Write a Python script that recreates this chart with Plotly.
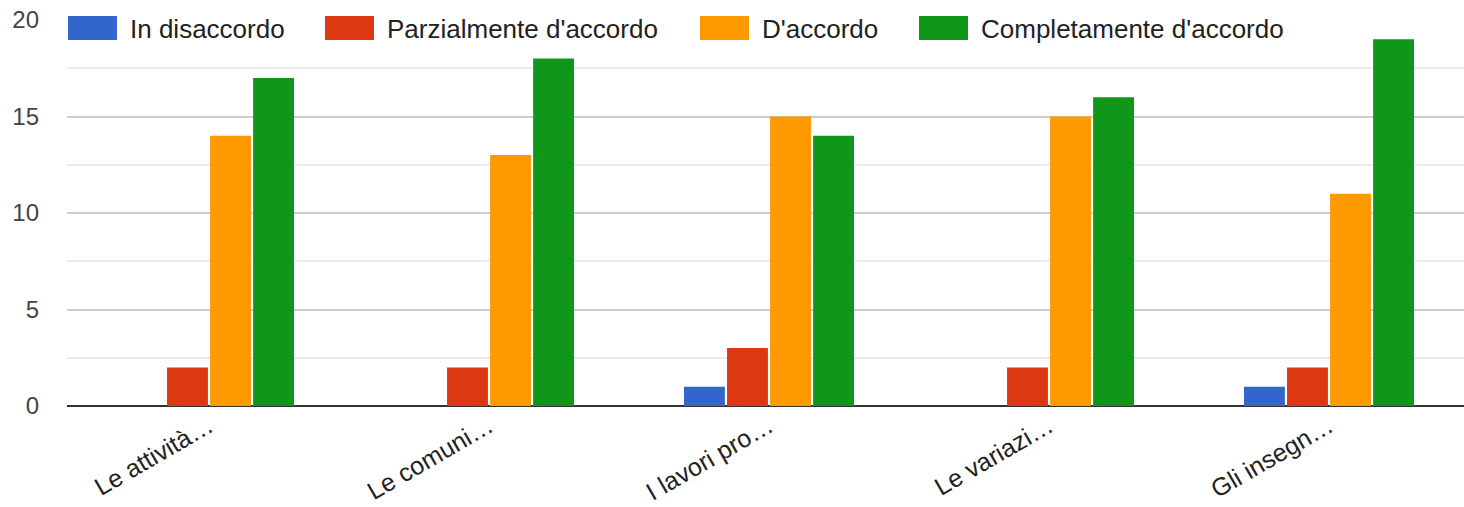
import plotly.graph_objects as go

categories = ["Le attività…", "Le comuni…", "I lavori pro…", "Le variazi…", "Gli insegn…"]
series_names = ["In disaccordo", "Parzialmente d'accordo", "D'accordo", "Completamente d'accordo"]
in_disaccordo = [0, 0, 1, 0, 1]
parzialmente = [2, 2, 3, 2, 2]
d_accordo = [14, 13, 15, 15, 11]
completamente = [17, 18, 14, 16, 19]
y_ticks = [0, 5, 10, 15, 20]

series_values = [in_disaccordo, parzialmente, d_accordo, completamente]
colors = ["#3366cc", "#dc3912", "#ff9900", "#109618"]

W, H = 1464, 507
ML, MR, MT, MB = 67, 0, 20, 101
PW, PH = W - ML - MR, H - MT - MB
FONT = "Liberation Sans, Arial, sans-serif"

fig = go.Figure()
for name, vals, col in zip(series_names, series_values, colors):
    fig.add_trace(go.Bar(x=categories, y=vals, name=name,
                         marker=dict(color=col, line=dict(width=0))))

def px_x(p):
    return (p - ML) / PW

def px_y(p):
    return (H - MB - p) / PH

# custom legend (large swatches like the original)
legend_x = [68, 325, 700, 919]
for name, col, lx in zip(series_names, colors, legend_x):
    fig.add_shape(type="rect", xref="paper", yref="paper",
                  x0=px_x(lx), x1=px_x(lx + 49), y0=px_y(40), y1=px_y(16),
                  fillcolor=col, line=dict(width=0), layer="above")
    fig.add_annotation(xref="paper", yref="paper", x=px_x(lx + 61), y=px_y(29),
                       text=name, showarrow=False, xanchor="left", yanchor="middle",
                       font=dict(family=FONT, size=26, color="#222222"),
                       bgcolor="white", borderpad=0)

cat_w = 280.0
r0 = -0.5 - 2 / cat_w
fig.update_layout(
    width=W, height=H,
    margin=dict(l=ML, r=MR, t=MT, b=MB, autoexpand=False),
    paper_bgcolor="white", plot_bgcolor="white",
    barmode="group", bargap=0.385, bargroupgap=0.05,
    showlegend=False,
    font=dict(family=FONT, size=24, color="#444444"),
    xaxis=dict(type="category", range=[r0, r0 + PW / cat_w], tickangle=-30,
               showgrid=False, ticks="", automargin=False,
               tickfont=dict(family=FONT, size=25, color="#222222")),
    yaxis=dict(range=[0, 20], tickvals=y_ticks, showgrid=True, gridcolor="#cccccc", gridwidth=1.5,
               minor=dict(dtick=2.5, showgrid=True, gridcolor="#ebebeb", gridwidth=1.5),
               zeroline=True, zerolinecolor="#333333", zerolinewidth=2,
               ticks="", ticklabelstandoff=27, automargin=False,
               tickfont=dict(family=FONT, size=24, color="#444444")),
)

fig.write_html("out.html", config={"displayModeBar": False},
               post_script="document.body.style.margin='0';document.body.style.overflow='hidden';")
